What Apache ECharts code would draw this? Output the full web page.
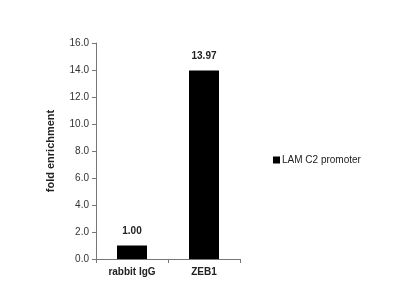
<!DOCTYPE html>
<html><head><meta charset="utf-8">
<script src="https://cdn.jsdelivr.net/npm/echarts@6/dist/echarts.min.js"></script>
<style>html,body{margin:0;padding:0;background:#fff}#c{width:400px;height:286px}</style>
</head><body><div id="c"></div>
<script>
var categories = ["rabbit IgG", "ZEB1"];
var seriesName = "LAM C2 promoter";
var values = [1.00, 13.97];
var yTicks = [0, 2, 4, 6, 8, 10, 12, 14, 16];

var chart = echarts.init(document.getElementById('c'));
chart.setOption({
  animation: false,
  backgroundColor: '#fff',
  textStyle: { fontFamily: 'Liberation Sans, Arial, sans-serif' },
  grid: { left: 96, right: 160, top: 43, bottom: 27 },
  legend: {
    data: [seriesName], left: 268, top: 150, itemWidth: 7, itemHeight: 7, icon: 'rect', itemGap: 2,
    textStyle: { fontSize: 10, color: '#222', fontFamily: 'Liberation Sans, Arial, sans-serif', padding: [0,0,0,-3] }
  },
  xAxis: {
    type: 'category', data: categories,
    axisLine: { lineStyle: { color: '#777', width: 1 } },
    axisTick: { show: true, length: 4, inside: false, lineStyle: { color: '#777' } },
    axisLabel: { fontSize: 10, fontWeight: 'bold', color: '#222', margin: 8 }
  },
  yAxis: {
    type: 'value', min: yTicks[0], max: yTicks[yTicks.length-1], interval: 2,
    name: 'fold enrichment', nameLocation: 'middle', nameGap: 40,
    nameTextStyle: { fontSize: 11, fontWeight: 'bold', color: '#222' },
    axisLine: { show: true, lineStyle: { color: '#777', width: 1 } },
    axisTick: { show: true, length: 4, lineStyle: { color: '#777' } },
    splitLine: { show: false },
    axisLabel: { fontSize: 10, color: '#333', margin: 7, formatter: function(v){ return v.toFixed(1); } }
  },
  series: [{
    name: seriesName, type: 'bar', data: values, barWidth: 30,
    itemStyle: { color: '#000' },
    label: { show: true, position: 'top', distance: 9, fontSize: 10, fontWeight: 'bold', color: '#222',
      formatter: function(p){ return p.value.toFixed(2); } }
  }]
});
</script></body></html>
